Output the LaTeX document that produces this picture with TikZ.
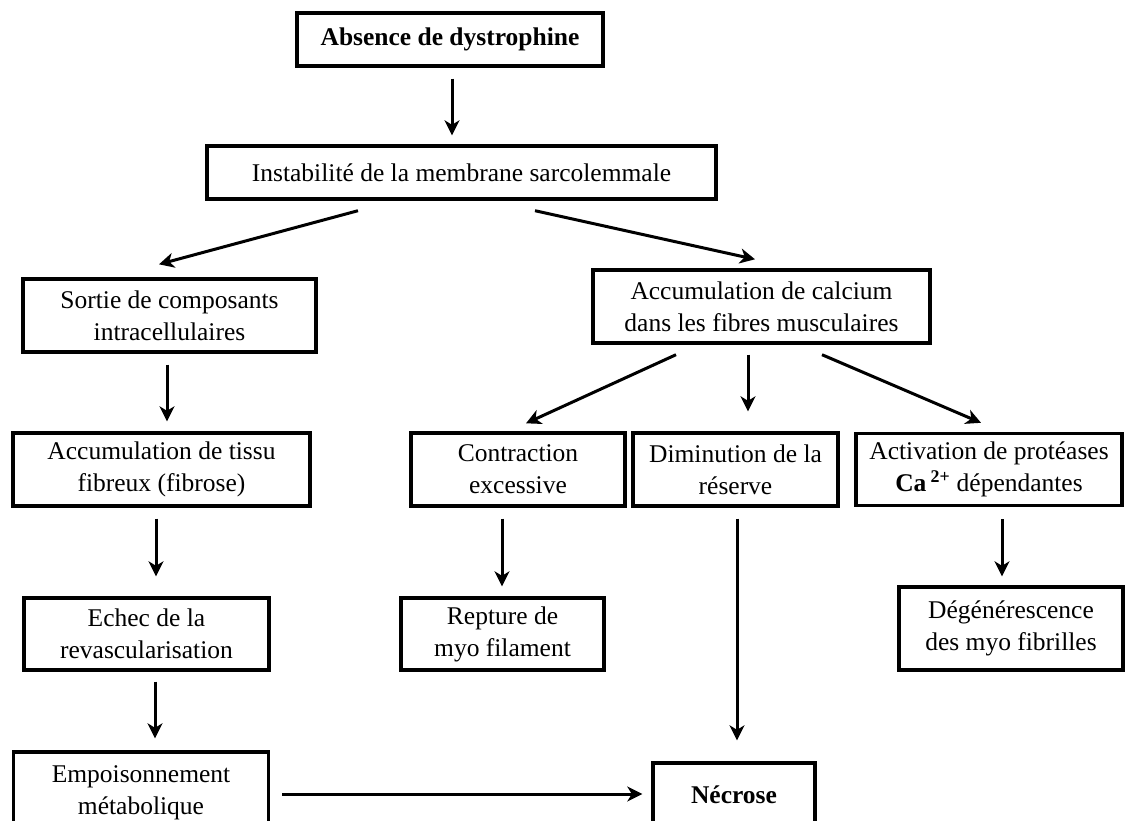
\documentclass[tikz,border=0pt]{standalone}
\usepackage{fontspec}
\setmainfont{Liberation Serif}
\usetikzlibrary{arrows.meta}
\begin{document}
\begin{tikzpicture}[x=1pt,y=-1pt,
  box/.style={draw, line width=3.4pt, align=center, inner sep=0pt,
    font=\fontsize{25.5}{32}\selectfont},
  arr/.style={line width=3pt, -{Stealth[length=15pt,width=15pt,inset=4.5pt]}}]
\useasboundingbox (0,0) rectangle (1125,820);
\clip (0,0) rectangle (1125,820);
% nodes
\node[box, minimum width=306pt, minimum height=53pt] (A) at (450,39.5) {\textbf{Absence de dystrophine}};
\node[box, minimum width=509pt, minimum height=53pt] (B) at (461.5,172.5) {Instabilité de la membrane sarcolemmale};
\node[box, minimum width=293pt, minimum height=73pt] (C) at (169.5,315.5) {Sortie de composants\\intracellulaires};
\node[box, minimum width=337pt, minimum height=73pt] (D) at (761.5,306.5) {Accumulation de calcium\\dans les fibres musculaires};
\node[box, minimum width=297pt, minimum height=73pt] (E) at (161.5,469.5) {Accumulation de tissu\\fibreux (fibrose)};
\node[box, minimum width=214pt, minimum height=73pt] (F) at (518,469.5) {Contraction\\excessive};
\node[box, minimum width=205pt, minimum height=73pt] (G) at (735.5,469.5) {Diminution de la\\réserve};
\node[box, minimum width=266pt, minimum height=72pt] (H) at (989,469.5) {Activation de protéases\\\textbf{Ca}\,\textsuperscript{\textbf{2+}} dépendantes};
\node[box, minimum width=245pt, minimum height=72pt] (I) at (146.5,634) {Echec de la\\revascularisation};
\node[box, minimum width=203pt, minimum height=72pt] (J) at (502.5,634) {Repture de\\myo filament};
\node[box, minimum width=224pt, minimum height=83pt] (K) at (1011,628.5) {Dégénérescence\\des myo fibrilles};
\node[box, minimum width=255pt, minimum height=82pt] (L) at (141,793) {Empoisonnement\\métabolique};
\node[box, minimum width=162pt, minimum height=64pt] (M) at (734,795) {\textbf{Nécrose}};
% connectors
\draw[arr] ([xshift=2pt,yshift=-11pt]A.south) -- ([xshift=-9.5pt,yshift=9pt]B.north);
\draw[arr] ([xshift=-103.5pt,yshift=-10pt]B.south) -- ([xshift=-10.5pt,yshift=13pt]C.north);
\draw[arr] ([xshift=73.5pt,yshift=-10pt]B.south) -- ([xshift=-6.5pt,yshift=9pt]D.north);
\draw[arr] ([xshift=-2.5pt,yshift=-11pt]C.south) -- ([xshift=5.5pt,yshift=10pt]E.north);
\draw[arr] ([xshift=-85.5pt,yshift=-10pt]D.south) -- ([xshift=8pt,yshift=8pt]F.north);
\draw[arr] ([xshift=-13.5pt,yshift=-10pt]D.south) -- ([xshift=12.5pt,yshift=20pt]G.north);
\draw[arr] ([xshift=60.5pt,yshift=-10pt]D.south) -- ([xshift=-8pt,yshift=9pt]H.north);
\draw[arr] ([xshift=-5.5pt,yshift=-11pt]E.south) -- ([xshift=9.5pt,yshift=20pt]I.north);
\draw[arr] ([xshift=-16pt,yshift=-11pt]F.south) -- ([xshift=-0.5pt,yshift=10pt]J.north);
\draw[arr] ([xshift=13pt,yshift=-12pt]H.south) -- ([xshift=-9pt,yshift=9pt]K.north);
\draw[arr] ([xshift=1.5pt,yshift=-11pt]G.south) -- ([xshift=3pt,yshift=21pt]M.north);
\draw[arr] ([xshift=8.5pt,yshift=-10pt]I.south) -- ([xshift=14pt,yshift=12pt]L.north);
\draw[arr] ([xshift=12pt,yshift=-1pt]L.east) -- ([xshift=-9pt,yshift=1pt]M.west);
\end{tikzpicture}
\end{document}
